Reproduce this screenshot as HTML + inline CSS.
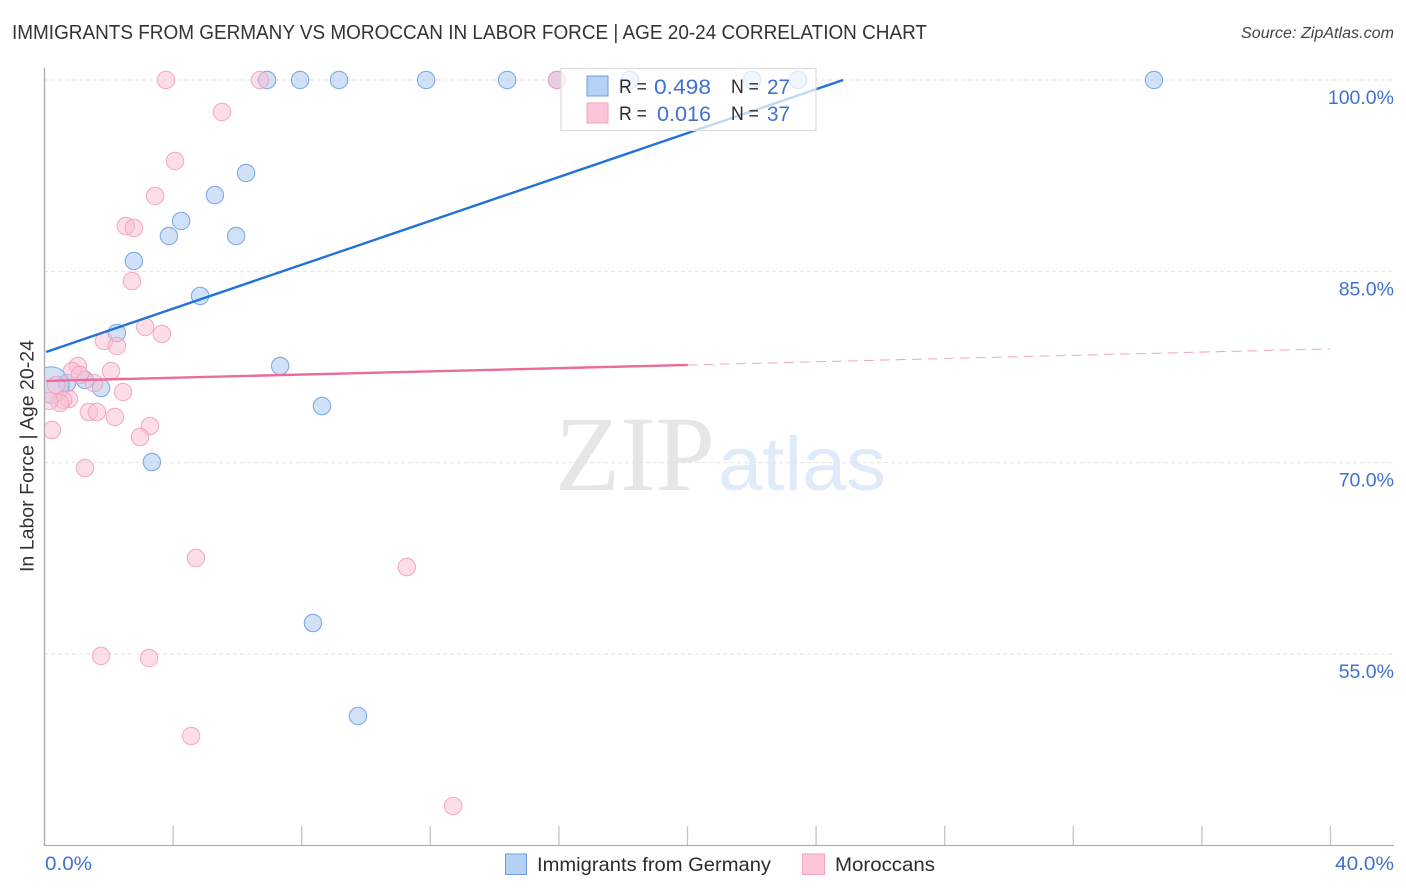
<!DOCTYPE html>
<html lang="en">
<head>
<meta charset="utf-8">
<title>Immigrants from Germany vs Moroccan in Labor Force | Age 20-24 Correlation Chart</title>
<style>
html,body{margin:0;padding:0;background:#fff;width:1406px;height:892px;overflow:hidden}
svg{display:block;font-family:"Liberation Sans",sans-serif}
</style>
</head>
<body>
<svg id="chart" xmlns="http://www.w3.org/2000/svg" width="1406" height="892" viewBox="0 0 1406 892">
  <defs>
    <clipPath id="plot-clip"><rect x="45" y="60" width="1349" height="786"/></clipPath>
  </defs>
  <text x="12" y="39" font-size="20" fill="#333" textLength="915" lengthAdjust="spacingAndGlyphs">IMMIGRANTS FROM GERMANY VS MOROCCAN IN LABOR FORCE | AGE 20-24 CORRELATION CHART</text>
  <text x="1241" y="38" font-size="15.5" font-style="italic" fill="#444" textLength="153" lengthAdjust="spacingAndGlyphs">Source: ZipAtlas.com</text>
  <g>
    <text x="555" y="490" font-family="'Liberation Serif',serif" font-size="107" fill="#e6e6e6" textLength="160" lengthAdjust="spacingAndGlyphs">ZIP</text>
    <text x="718" y="490" font-size="76" fill="#e0eaf9" textLength="168" lengthAdjust="spacingAndGlyphs">atlas</text>
  </g>
  <g id="grid"></g>
  <g id="axes">
    <line x1="44.5" y1="68" x2="44.5" y2="846" stroke="#a8a8a8" stroke-width="1.3"/>
    <line x1="44" y1="845.5" x2="1394" y2="845.5" stroke="#b0b0b0" stroke-width="1.3"/>
  </g>
  <g id="x-ticks"></g>
  <g id="y-labels"></g>
  <g clip-path="url(#plot-clip)">
    <g id="germany-points"></g>
    <g id="moroccan-points"></g>
    <g id="trends"></g>
  </g>
  <text transform="translate(33.5,572) rotate(-90)" font-size="19.5" fill="#333" textLength="232" lengthAdjust="spacingAndGlyphs">In Labor Force | Age 20-24</text>
  <text x="45" y="870" font-size="19.5" fill="#3e72d0" textLength="47" lengthAdjust="spacingAndGlyphs">0.0%</text>
  <text x="1335" y="870" font-size="19.5" fill="#3e72d0" textLength="59" lengthAdjust="spacingAndGlyphs">40.0%</text>

  <g>
    <rect x="561" y="68.5" width="255" height="62" fill="#fff" fill-opacity="0.72" stroke="#dcdcdc" stroke-width="1.2"/>
    <rect x="587" y="76" width="21" height="20" fill="#b5d1f6" stroke="#6d9bdc" stroke-width="1"/>
    <rect x="587" y="103" width="21" height="20" fill="#fcc6d8" stroke="#f3a3bd" stroke-width="1"/>
    <text x="619" y="93" font-size="19" fill="#2b2b2b" textLength="28" lengthAdjust="spacingAndGlyphs">R =</text>
    <text x="654" y="94" font-size="21" fill="#3e72d0" textLength="57" lengthAdjust="spacingAndGlyphs">0.498</text>
    <text x="731" y="93" font-size="19" fill="#2b2b2b" textLength="28" lengthAdjust="spacingAndGlyphs">N =</text>
    <text x="767" y="94" font-size="21" fill="#3e72d0" textLength="23" lengthAdjust="spacingAndGlyphs">27</text>
    <text x="619" y="120" font-size="19" fill="#2b2b2b" textLength="28" lengthAdjust="spacingAndGlyphs">R =</text>
    <text x="657" y="121" font-size="21" fill="#3e72d0" textLength="54" lengthAdjust="spacingAndGlyphs">0.016</text>
    <text x="731" y="120" font-size="19" fill="#2b2b2b" textLength="28" lengthAdjust="spacingAndGlyphs">N =</text>
    <text x="767" y="121" font-size="21" fill="#3e72d0" textLength="23" lengthAdjust="spacingAndGlyphs">37</text>
  </g>

  <g>
    <rect x="505.5" y="854" width="21" height="20.5" fill="#b5d1f6" stroke="#6d9bdc" stroke-width="1"/>
    <text x="537" y="871" font-size="19.5" fill="#2b2b2b" textLength="234" lengthAdjust="spacingAndGlyphs">Immigrants from Germany</text>
    <rect x="802.5" y="854" width="22" height="20.5" fill="#fcc6d8" stroke="#f3a3bd" stroke-width="1"/>
    <text x="835" y="871" font-size="19.5" fill="#2b2b2b" textLength="100" lengthAdjust="spacingAndGlyphs">Moroccans</text>
  </g>
</svg>
<script>
const xTicks = [0, 4, 8, 12, 16, 20, 24, 28, 32, 36, 40];
const yGridValues = [100, 85, 70, 55];
const yTickLabels = ['100.0%', '85.0%', '70.0%', '55.0%'];

const germanyX = [6.92, 7.95, 9.16, 11.87, 14.39, 15.94, 18.21, 22.01, 23.44, 34.51, 6.27, 5.30, 4.25, 3.87, 5.96, 2.78, 4.84, 2.25, 7.33, 0.70, 1.26, 1.76, 8.63, 3.34, 8.35, 9.75, 0.20];
const germanyY = [100, 100, 100, 100, 100, 100, 100, 100, 100, 100, 92.71, 90.98, 88.95, 87.77, 87.77, 85.81, 83.07, 80.17, 77.58, 76.25, 76.48, 75.85, 74.44, 70.05, 57.43, 50.14, 76.09];
const germanyWeight = [1, 1, 1, 1, 1, 1, 1, 1, 1, 1, 1, 1, 1, 1, 1, 1, 1, 1, 1, 1, 1, 1, 1, 1, 1, 1, 4.4];

const moroccanX = [3.78, 6.70, 15.94, 5.52, 4.06, 3.44, 2.53, 2.78, 2.72, 3.13, 3.65, 1.85, 2.25, 1.04, 0.86, 2.07, 1.10, 1.54, 0.36, 2.44, 0.76, 0.58, 0.48, 0.14, 0.23, 1.38, 1.63, 2.19, 3.28, 2.97, 1.26, 4.71, 11.27, 1.76, 3.25, 4.56, 12.71];
const moroccanY = [100, 100, 100, 97.49, 93.65, 90.91, 88.55, 88.40, 84.24, 80.64, 80.09, 79.54, 79.15, 77.58, 77.19, 77.19, 76.87, 76.25, 76.09, 75.54, 74.99, 74.91, 74.68, 74.84, 72.56, 73.97, 73.97, 73.58, 72.88, 72.01, 69.58, 62.53, 61.82, 54.85, 54.69, 48.57, 43.09];

const germanyTrendX = [0.05, 24.84];
const germanyTrendY = [78.68, 100];
const moroccanTrendX = [0.05, 20.01];
const moroccanTrendY = [76.41, 77.66];
const moroccanProjectionX = [20.01, 39.98];
const moroccanProjectionY = [77.66, 78.92];

const NS = 'http://www.w3.org/2000/svg';
function xScale(v) { return 44.5 + v * 32.15; }
function yScale(v) { return 80 + (100 - v) * 12.756; }
function make(tag, attrs, parent) {
  const el = document.createElementNS(NS, tag);
  for (const k in attrs) el.setAttribute(k, attrs[k]);
  parent.appendChild(el);
  return el;
}

const gridGroup = document.getElementById('grid');
yGridValues.forEach(function (v) {
  const line = make('line', { x1: 44, x2: 1394, y1: yScale(v), y2: yScale(v), stroke: '#e2e2e2', 'stroke-width': 1, 'stroke-dasharray': '4 3' }, gridGroup);
  
  
});

const tickGroup = document.getElementById('x-ticks');
xTicks.forEach(function (v) {
  if (v === 0) return;
  const tick = make('line', { x1: xScale(v), x2: xScale(v), y1: 826, y2: 845, stroke: '#c4c4c4', 'stroke-width': 1.3 }, tickGroup);
  
  
});

const labelGroup = document.getElementById('y-labels');
yGridValues.forEach(function (v, i) {
  const label = make('text', { x: 1394, y: yScale(v) + 24, 'text-anchor': 'end', 'font-size': 19.5, fill: '#3e72d0' }, labelGroup);
  label.textContent = yTickLabels[i];
  
  
});

const germanyGroup = document.getElementById('germany-points');
germanyX.forEach(function (v, i) {
  const dot = make('circle', { cx: xScale(v), cy: yScale(germanyY[i]), r: 8.7 * Math.sqrt(germanyWeight[i]), fill: '#a9c9f3', 'fill-opacity': 0.55, stroke: '#6b9fe4', 'stroke-opacity': 0.85, 'stroke-width': 1.1 }, germanyGroup);
  
  
});

const moroccanGroup = document.getElementById('moroccan-points');
moroccanX.forEach(function (v, i) {
  const dot = make('circle', { cx: xScale(v), cy: yScale(moroccanY[i]), r: 8.7, fill: '#fbbdd2', 'fill-opacity': 0.5, stroke: '#f2a0bc', 'stroke-opacity': 0.85, 'stroke-width': 1.1 }, moroccanGroup);
  
  
});

const trendGroup = document.getElementById('trends');
const germanyLine = make('line', { x1: xScale(germanyTrendX[0]), y1: yScale(germanyTrendY[0]), x2: xScale(germanyTrendX[1]), y2: yScale(germanyTrendY[1]), stroke: '#2272d8', 'stroke-width': 2.4 }, trendGroup);


const moroccanLine = make('line', { x1: xScale(moroccanTrendX[0]), y1: yScale(moroccanTrendY[0]), x2: xScale(moroccanTrendX[1]), y2: yScale(moroccanTrendY[1]), stroke: '#ea6c9c', 'stroke-width': 2.4 }, trendGroup);


const moroccanDash = make('line', { x1: xScale(moroccanProjectionX[0]), y1: yScale(moroccanProjectionY[0]), x2: xScale(moroccanProjectionX[1]), y2: yScale(moroccanProjectionY[1]), stroke: '#eda6c0', 'stroke-width': 1, 'stroke-dasharray': '10 6' }, trendGroup);


</script>
</body>
</html>
